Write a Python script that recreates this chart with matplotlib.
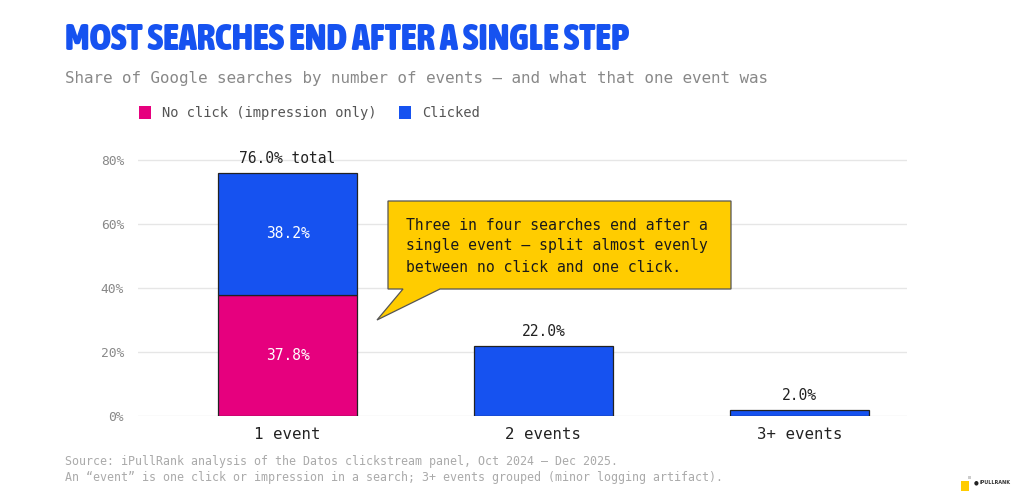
import matplotlib
matplotlib.use("Agg")
import matplotlib.pyplot as plt
from matplotlib.patches import Polygon, Rectangle
from matplotlib import font_manager

# data
categories = ["1 event", "2 events", "3+ events"]
no_click = [37.8, 0.0, 0.0]
clicked = [38.2, 22.0, 2.0]
totals = [76.0, 22.0, 2.0]
total_labels = ["76.0% total", "22.0%", "2.0%"]
yticks = [0, 20, 40, 60, 80]

BLUE = "#1652F0"
MAGENTA = "#E6007E"
YELLOW = "#FFCC00"
MONO = "DejaVu Sans Mono"

# pick the narrowest bold font installed for the title
stretch_rank = {"ultra-condensed": 0, "extra-condensed": 1, "condensed": 2,
                "semi-condensed": 3}
best = None
for f in font_manager.fontManager.ttflist:
    st = f.stretch if isinstance(f.stretch, str) else ""
    w = f.weight if isinstance(f.weight, int) else 400
    if st in stretch_rank and w >= 600:
        key = (stretch_rank[st], -w)
        if best is None or key < best[0]:
            best = (key, f.fname)
title_prop = (font_manager.FontProperties(fname=best[1]) if best
              else font_manager.FontProperties(family="Roboto", weight="bold"))

W, H = 1024, 491
fig = plt.figure(figsize=(W / 100, H / 100), dpi=100)
fig.patch.set_facecolor("white")


def fx(px):
    return px / W


def fy(py):
    return 1 - py / H


# axes placed so 0% sits at y=416px and 80% at y=160px
ax = fig.add_axes([fx(138), fy(416), 769 / W, 84 * 3.2 / H])
x = range(len(categories))
width = 0.543
ax.bar(x, no_click, width, color=MAGENTA, edgecolor="#222222", linewidth=0.9, zorder=3)
ax.bar(x, clicked, width, bottom=no_click, color=BLUE, edgecolor="#222222",
       linewidth=0.9, zorder=3)

ax.set_xlim(-0.584, 2.42)
ax.set_ylim(0, 84)
ax.set_yticks(yticks)
ax.set_yticklabels([f"{t}%" for t in yticks], fontfamily=MONO, fontsize=9.3, color="#888888")
ax.set_xticks(list(x))
ax.set_xticklabels(categories, fontfamily=MONO, fontsize=11.3, color="#222222")
ax.tick_params(axis="both", length=0)
ax.tick_params(axis="y", pad=10)
ax.tick_params(axis="x", pad=8)
ax.grid(axis="y", color="#e6e6e6", linewidth=1, zorder=0)
for s in ax.spines.values():
    s.set_visible(False)

# segment labels
for i in x:
    if no_click[i] > 0:
        ax.text(i, no_click[i] / 2, f"{no_click[i]:.1f}%", ha="center", va="center",
                color="white", fontfamily=MONO, fontsize=10.5, zorder=4)
        ax.text(i, no_click[i] + clicked[i] / 2, f"{clicked[i]:.1f}%", ha="center",
                va="center", color="white", fontfamily=MONO, fontsize=10.5, zorder=4)
    ax.text(i, totals[i] + 2.2, total_labels[i], ha="center", va="bottom",
            color="#222222", fontfamily=MONO, fontsize=10.5, zorder=4)

# title, fitted to the reference width
title = fig.text(fx(65), fy(40), "MOST SEARCHES END AFTER A SINGLE STEP", color=BLUE,
                 fontproperties=title_prop, fontsize=30, va="center", ha="left")
renderer = fig.canvas.get_renderer()
tw = title.get_window_extent(renderer).width
title.set_fontsize(min(34, 30 * 565 / tw))

fig.text(fx(65), fy(79), "Share of Google searches by number of events \u2014 and what that one event was",
         color="#888888", fontfamily=MONO, fontsize=11.4, va="center", ha="left")

fig.patches.append(Rectangle((fx(139), fy(119)), 12 / W, 13 / H, transform=fig.transFigure,
                             facecolor=MAGENTA, edgecolor="none"))
fig.text(fx(162), fy(113), "No click (impression only)", color="#555555", fontfamily=MONO,
         fontsize=9.9, va="center", ha="left")
fig.patches.append(Rectangle((fx(399), fy(119)), 12 / W, 13 / H, transform=fig.transFigure,
                             facecolor=BLUE, edgecolor="none"))
fig.text(fx(422), fy(113), "Clicked", color="#555555", fontfamily=MONO,
         fontsize=9.9, va="center", ha="left")

# callout
callout = [(388, 201), (731, 201), (731, 289), (440, 289), (377, 320), (403, 289), (388, 289)]
fig.patches.append(Polygon([(fx(a), fy(b)) for a, b in callout], closed=True,
                           transform=fig.transFigure, facecolor=YELLOW,
                           edgecolor="#555555", linewidth=0.9, zorder=5))
callout_lines = ["Three in four searches end after a",
                 "single event \u2014 split almost evenly",
                 "between no click and one click."]
for k, line in enumerate(callout_lines):
    fig.text(fx(406), fy(225 + 21 * k), line, color="#1a1a1a", fontfamily=MONO,
             fontsize=10.6, va="center", ha="left", zorder=6)

# source notes
fig.text(fx(65), fy(461), "Source: iPullRank analysis of the Datos clickstream panel, Oct 2024 \u2013 Dec 2025.",
         color="#aaaaaa", fontfamily=MONO, fontsize=8.4, va="center", ha="left")
fig.text(fx(65), fy(478), "An \u201cevent\u201d is one click or impression in a search; 3+ events grouped (minor logging artifact).",
         color="#aaaaaa", fontfamily=MONO, fontsize=8.4, va="center", ha="left")

# logo
fig.patches.append(Rectangle((fx(961), fy(491)), 8 / W, 10 / H, transform=fig.transFigure,
                             facecolor=YELLOW, edgecolor="none"))
fig.patches.append(Rectangle((fx(968), fy(479)), 3 / W, 3 / H, transform=fig.transFigure,
                             facecolor="#cccccc", edgecolor="none"))
fig.text(fx(974), fy(483), "\u25cf", color="#222222", fontsize=4, va="center", ha="left")
fig.text(fx(980), fy(483), "iPULLRANK", color="#333333", fontfamily="DejaVu Sans",
         fontweight="bold", fontsize=3.5, va="center", ha="left")

fig.savefig("out.png", dpi=100, facecolor="white")
